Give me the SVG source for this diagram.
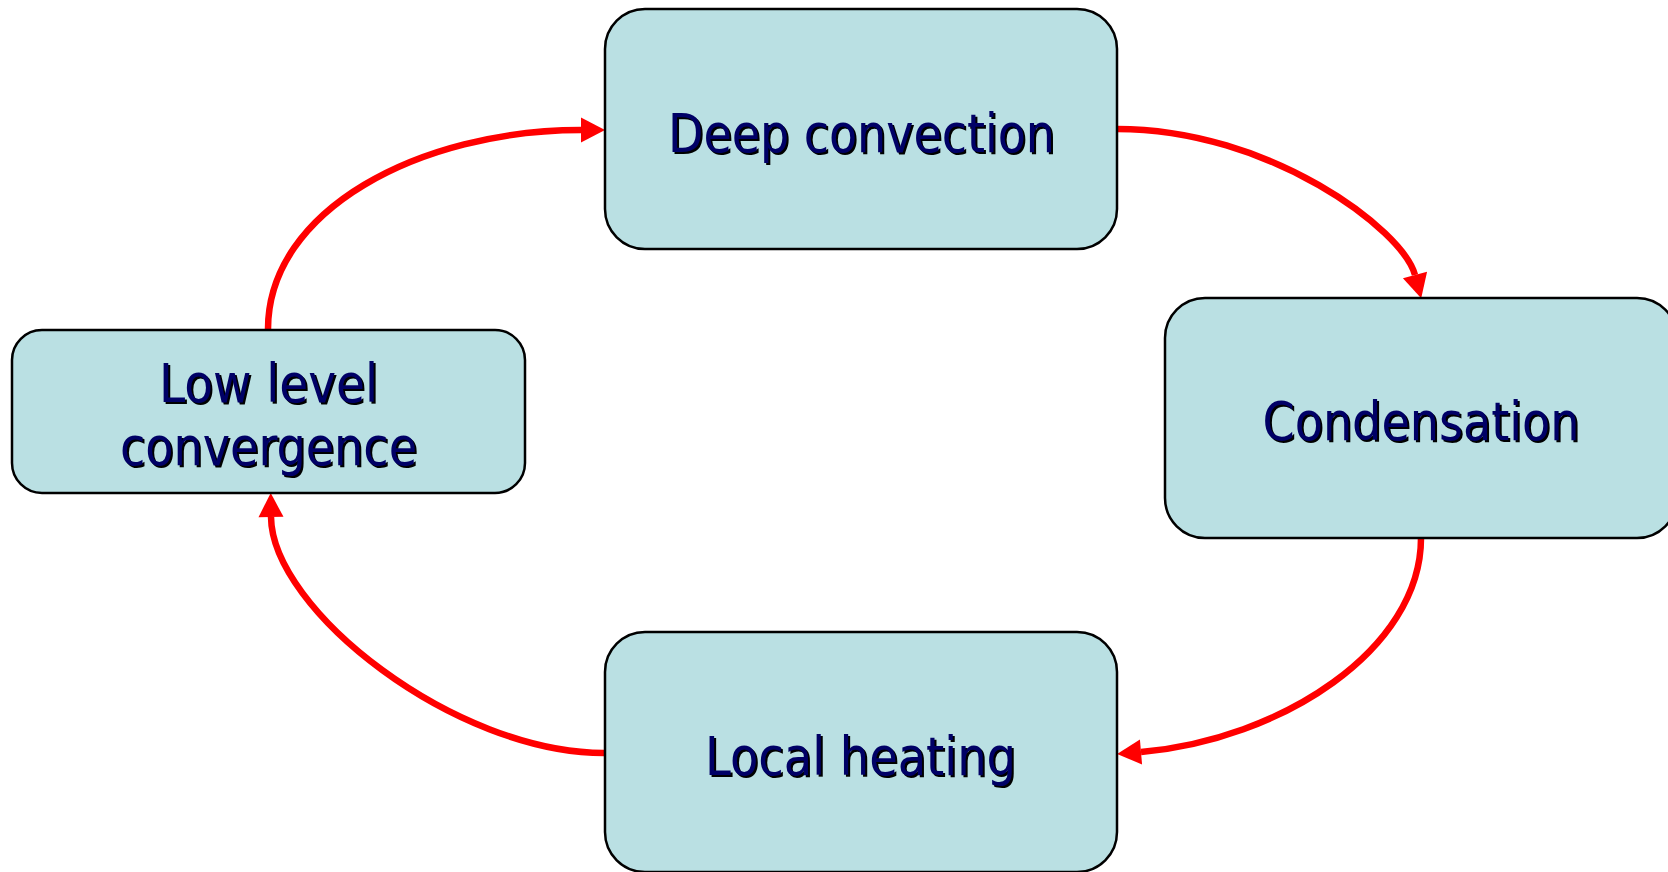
<svg xmlns="http://www.w3.org/2000/svg" xmlns:xlink="http://www.w3.org/1999/xlink" width="1668" height="872" viewBox="0 0 1668 872">
  <style>
    .box { fill: #BAE0E3; stroke: #000000; stroke-width: 2.5; }
    .lbl { font-family: "DejaVu Sans Condensed", "DejaVu Sans", sans-serif; font-size: 53px; text-anchor: middle; }
    .shadow { fill: #000000; }
    .txt { fill: #000066; }
    .conn { fill: none; stroke: #FF0000; stroke-width: 6.5; marker-end: url(#arrow); }
  </style>
  <defs>
    <marker id="arrow" markerUnits="userSpaceOnUse" markerWidth="30" markerHeight="30" refX="0" refY="0" viewBox="0 -15 30 30" orient="auto" overflow="visible">
      <path d="M0,-12.5 L24,0 L0,12.5 Z" fill="#FF0000"/>
    </marker>
  </defs>
  <rect width="1668" height="872" fill="#FFFFFF"/>

  <g id="connectors">
    <path class="conn" d="M1117,129 C1270,129 1403,230 1415,275"/>
    <path class="conn" d="M1421,538 C1421,650 1280,740 1141,752"/>
    <path class="conn" d="M604,753 C455,753 272,610 271,517"/>
    <path class="conn" d="M268,329 C268,210 420,130 581,130"/>
  </g>

  <g id="deep-convection">
    <rect class="box" x="605" y="9" width="512" height="240" rx="40" ry="40"/>
    <text class="lbl shadow" x="863.5" y="154" textLength="387" lengthAdjust="spacingAndGlyphs">Deep convection</text>
    <text class="lbl txt" x="861.5" y="152" textLength="387" lengthAdjust="spacingAndGlyphs">Deep convection</text>
  </g>

  <g id="condensation">
    <rect class="box" x="1165" y="298" width="512" height="240" rx="40" ry="40"/>
    <text class="lbl shadow" x="1423" y="442" textLength="317" lengthAdjust="spacingAndGlyphs">Condensation</text>
    <text class="lbl txt" x="1421" y="440" textLength="317" lengthAdjust="spacingAndGlyphs">Condensation</text>
  </g>

  <g id="local-heating">
    <rect class="box" x="605" y="632" width="512" height="240" rx="40" ry="40"/>
    <text class="lbl shadow" x="862.5" y="777" textLength="311" lengthAdjust="spacingAndGlyphs">Local heating</text>
    <text class="lbl txt" x="860.5" y="775" textLength="311" lengthAdjust="spacingAndGlyphs">Local heating</text>
  </g>

  <g id="low-level-convergence">
    <rect class="box" x="12" y="330" width="513" height="163" rx="30" ry="30"/>
    <text class="lbl shadow" x="270.5" y="404" textLength="219" lengthAdjust="spacingAndGlyphs">Low level</text>
    <text class="lbl txt" x="268.5" y="402" textLength="219" lengthAdjust="spacingAndGlyphs">Low level</text>
    <text class="lbl shadow" x="270.5" y="467" textLength="297" lengthAdjust="spacingAndGlyphs">convergence</text>
    <text class="lbl txt" x="268.5" y="465" textLength="297" lengthAdjust="spacingAndGlyphs">convergence</text>
  </g>
</svg>
